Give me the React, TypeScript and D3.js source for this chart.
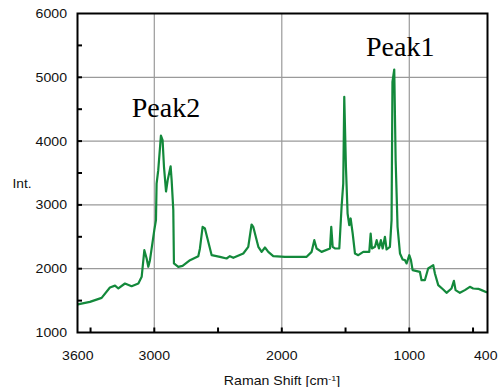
import React from "react";
import * as d3 from "d3";

const ramanShift = [3600, 3505, 3413, 3348, 3308, 3282, 3230, 3178, 3125, 3099, 3078, 3060, 3047, 3034, 3000, 2987, 2982, 2969, 2948, 2935, 2924, 2908, 2895, 2872, 2864, 2851, 2846, 2812, 2778, 2720, 2655, 2642, 2621, 2603, 2550, 2485, 2433, 2407, 2380, 2302, 2263, 2237, 2224, 2184, 2158, 2132, 2106, 2067, 1975, 1805, 1766, 1745, 1727, 1688, 1622, 1612, 1601, 1583, 1549, 1531, 1518, 1510, 1497, 1484, 1471, 1460, 1444, 1426, 1400, 1361, 1314, 1303, 1293, 1269, 1256, 1238, 1223, 1209, 1191, 1178, 1152, 1139, 1132, 1118, 1107, 1092, 1073, 1052, 1034, 1021, 1000, 987, 974, 917, 904, 878, 852, 812, 799, 773, 734, 708, 669, 650, 637, 603, 564, 525, 499, 459, 433, 394, 385];
const intensity = [1440, 1480, 1543, 1705, 1735, 1690, 1768, 1726, 1768, 1872, 2290, 2160, 2030, 2134, 2604, 2761, 3335, 3545, 4085, 4015, 3597, 3210, 3388, 3605, 3388, 2918, 2082, 2029, 2045, 2134, 2196, 2317, 2656, 2630, 2212, 2186, 2160, 2196, 2170, 2238, 2343, 2693, 2656, 2343, 2264, 2332, 2264, 2196, 2186, 2186, 2264, 2447, 2317, 2264, 2317, 2656, 2343, 2317, 2317, 2970, 3335, 4694, 3597, 2865, 2682, 2787, 2552, 2238, 2212, 2264, 2264, 2552, 2317, 2343, 2447, 2317, 2447, 2317, 2500, 2301, 2343, 2761, 4929, 5122, 3701, 2656, 2238, 2144, 2134, 2082, 2212, 2134, 1977, 1951, 1820, 1820, 2003, 2055, 1925, 1742, 1674, 1622, 1690, 1810, 1664, 1622, 1664, 1716, 1690, 1685, 1664, 1632, 1632];

const xTickValues = [3500, 3000, 2500, 2000, 1500, 1000, 500];
const xGridValues = [3000, 2000, 1000];
const xLabelValues = [3600, 3000, 2000, 1000, 400];
const yTickValues = [1500, 2000, 2500, 3000, 3500, 4000, 4500, 5000, 5500];
const yGridValues = [2000, 3000, 4000, 5000];
const yLabelValues = [1000, 2000, 3000, 4000, 5000, 6000];
const annotations = [
  { label: "Peak1", shift: 1118, value: 5122, dx: 6, dy: -13.5 },
  { label: "Peak2", shift: 2948, value: 4085, dx: 5, dy: -19 },
];

const L = 77.5, R = 487.5, T = 13.5, B = 332.5;

export default function App() {
  const x = d3.scaleLinear().domain([3600, 385]).range([77.8, 487.7]);
  const y = d3.scaleLinear().domain([1000, 6000]).range([B, T]);
  const pts: [number, number][] = ramanShift.map((s, i) => [s, intensity[i]]);
  const line = d3.line<[number, number]>().x(d => x(d[0])).y(d => y(d[1]));
  const tickFont = "'Liberation Sans', Arial, sans-serif";
  const serifFont = "'Liberation Serif', 'DejaVu Serif', 'Noto Serif', Times, serif";

  return (
    <svg width={498} height={387} style={{ position: "absolute", left: 0, top: 0, background: "#fff" }}>
      <rect x={0} y={0} width={498} height={387} fill="#fff" />
      {yGridValues.map(v => (
        <line key={"yg" + v} x1={L} x2={R} y1={y(v)} y2={y(v)} stroke="#9a9a9a" strokeWidth={1.2} />
      ))}
      {xGridValues.map(v => (
        <line key={"xg" + v} x1={x(v)} x2={x(v)} y1={T} y2={B} stroke="#9a9a9a" strokeWidth={1.2} />
      ))}
      <path d={line(pts) || ""} fill="none" stroke="#13893b" strokeWidth={2.2} strokeLinejoin="round" />
      <rect x={L} y={T} width={R - L} height={B - T} fill="none" stroke="#000" strokeWidth={2} />
      {yTickValues.map(v => (
        <line key={"yt" + v} x1={L} x2={L + 4.5} y1={y(v)} y2={y(v)} stroke="#000" strokeWidth={2} />
      ))}
      {xTickValues.map(v => (
        <line key={"xt" + v} x1={x(v)} x2={x(v)} y1={B} y2={B - 5} stroke="#000" strokeWidth={2} />
      ))}
      {yLabelValues.map(v => (
        <text key={"yl" + v} transform={`translate(67,${y(v) + 4.5}) scale(1.13,1)`} textAnchor="end"
          style={{ fontFamily: tickFont, fontSize: 12.5 }} fill="#111">{v}</text>
      ))}
      {xLabelValues.map(v => (
        <text key={"xl" + v} transform={`translate(${x(v)},360) scale(1.13,1)`} textAnchor="middle"
          style={{ fontFamily: tickFont, fontSize: 12.5 }} fill="#111">{v}</text>
      ))}
      <text transform="translate(22,188) scale(1.1,1)" textAnchor="middle" style={{ fontFamily: tickFont, fontSize: 12.5 }} fill="#111">Int.</text>
      <text transform="translate(282,385) scale(1.13,1)" textAnchor="middle" style={{ fontFamily: tickFont, fontSize: 12.5 }} fill="#111">
        Raman Shift [cm<tspan dy={-4} style={{ fontSize: 8 }}>-1</tspan><tspan dy={4}>]</tspan>
      </text>
      {annotations.map(a => (
        <text key={a.label} x={x(a.shift) + a.dx} y={y(a.value) + a.dy}
          textAnchor="middle" style={{ fontFamily: serifFont, fontSize: 28 }} fill="#000">{a.label}</text>
      ))}
    </svg>
  );
}
